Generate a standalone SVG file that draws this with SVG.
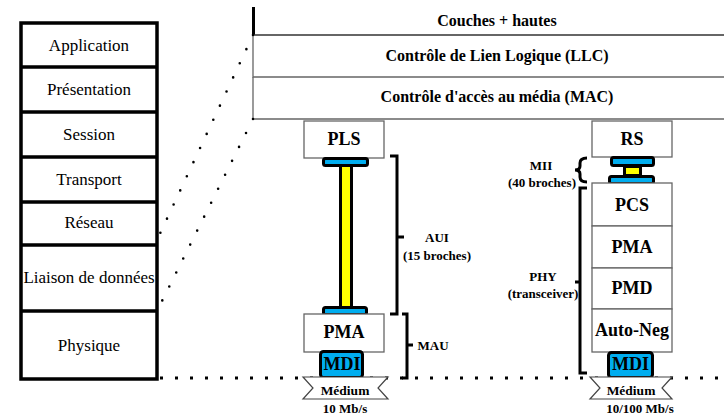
<svg xmlns="http://www.w3.org/2000/svg" width="724" height="417" viewBox="0 0 724 417">
<style>
.osi{fill:#fff;stroke:#000;stroke-width:3.5}
.t{font-family:"Liberation Serif","Times New Roman",serif;fill:#000;text-anchor:middle}
.r{font-size:17px}
.b{font-weight:bold}
.box{fill:#fff;stroke:#666;stroke-width:1.3}
.line{stroke:#666;stroke-width:1.3;fill:none}
.bar{fill:#00adef;stroke:#000;stroke-width:3;stroke-linejoin:round}
.yel{fill:#ffff00;stroke:#000;stroke-width:3}
.br{fill:none;stroke:#000;stroke-width:3;stroke-linejoin:miter}
.dotd{fill:none;stroke:#000;stroke-width:2.6;stroke-linecap:round;stroke-dasharray:0 15.6}
.doth{fill:none;stroke:#000;stroke-width:3;stroke-dasharray:3 12}
.med{fill:#fff;stroke:#444;stroke-width:1.2}
</style>

<g id="osi-stack">
  <rect class="osi" x="21" y="23" width="136" height="356"/>
  <path class="osi" d="M21,67H157M21,112H157M21,157H157M21,202H157M21,245H157M21,311H157" fill="none"/>
  <text class="t r" x="89" y="51">Application</text>
  <text class="t r" x="89" y="95">Présentation</text>
  <text class="t r" x="89" y="140">Session</text>
  <text class="t r" x="89" y="185">Transport</text>
  <text class="t r" x="89" y="228">Réseau</text>
  <text class="t r" x="89" y="283">Liaison de données</text>
  <text class="t r" x="89" y="351">Physique</text>
</g>

<g id="couches-hautes">
  <line x1="253.5" y1="7" x2="253.5" y2="35" stroke="#000" stroke-width="3"/>
  <line x1="253" y1="35" x2="724" y2="35" stroke="#333" stroke-width="1.5"/>
  <text class="t b" x="497" y="26" font-size="16">Couches + hautes</text>
</g>
<g id="llc">
  <path class="line" d="M253,35V77H724"/>
  <text class="t b" x="497" y="61" font-size="16">Contrôle de Lien Logique (LLC)</text>
</g>
<g id="mac">
  <path class="line" d="M253,77V119H724"/>
  <text class="t b" x="497" y="102" font-size="16">Contrôle d'accès au média (MAC)</text>
</g>

<g id="connectors">
  <line class="dotd" x1="253" y1="35" x2="157" y2="240"/>
  <line class="dotd" x1="253" y1="119" x2="157" y2="311"/>
  <line class="doth" x1="160" y1="378" x2="724" y2="378"/>
  <rect class="yel" x="340.5" y="164" width="11" height="144"/>
  <rect class="yel" x="624.5" y="166.5" width="16" height="9"/>
</g>

<g id="pls">
  <rect class="box" x="304" y="121" width="80" height="37"/>
  <text class="t b" x="344" y="145" font-size="18">PLS</text>
  <rect class="bar" x="323.5" y="158.5" width="44" height="7" rx="2"/>
</g>
<g id="aui">
  <path class="br" d="M390,156H397V314H390M397,237H404"/>
  <text class="t b" x="437" y="242" font-size="13">AUI</text>
  <text class="t b" x="437" y="260" font-size="13">(15 broches)</text>
</g>
<g id="pma-left">
  <rect class="bar" x="323.5" y="307.5" width="43" height="7" rx="2"/>
  <rect class="box" x="304" y="314" width="80" height="38"/>
  <text class="t b" x="344" y="338" font-size="18">PMA</text>
</g>
<g id="mau">
  <path class="br" d="M402,314H407V378H402M407,345H413"/>
  <text class="t b" x="433" y="350" font-size="13">MAU</text>
</g>
<g id="mdi-left">
  <rect class="bar" x="320.5" y="351.5" width="42" height="26" rx="3"/>
  <text class="t b" x="342" y="370" font-size="18">MDI</text>
</g>
<g id="medium-left">
  <polygon class="med" points="303,377 388,377 378,388 388,399 303,399 313,388"/>
  <text class="t b" x="345" y="395" font-size="13.5">Médium</text>
  <text class="t b" x="345" y="413" font-size="13">10 Mb/s</text>
</g>

<g id="rs">
  <rect class="box" x="592" y="121" width="80" height="36"/>
  <text class="t b" x="632" y="145" font-size="18">RS</text>
</g>
<g id="mii">
  <rect class="bar" x="611.5" y="157.5" width="42" height="8" rx="2"/>
  <rect class="bar" x="609.5" y="176.5" width="44" height="7" rx="2"/>
  <path class="br" d="M587,158Q580,158 580,163V166Q580,170 575,170Q580,170 580,174V177Q580,182 587,182"/>
  <text class="t b" x="541" y="170" font-size="13">MII</text>
  <text class="t b" x="542" y="187" font-size="13">(40 broches)</text>
</g>
<g id="pcs">
  <rect class="box" x="592" y="183" width="80" height="43"/>
  <text class="t b" x="632" y="211" font-size="18">PCS</text>
</g>
<g id="pma-right">
  <rect class="box" x="592" y="226" width="80" height="42"/>
  <text class="t b" x="632" y="253" font-size="18">PMA</text>
</g>
<g id="pmd">
  <rect class="box" x="592" y="268" width="80" height="41"/>
  <text class="t b" x="632" y="294" font-size="18">PMD</text>
</g>
<g id="auto-neg">
  <rect class="box" x="592" y="309" width="80" height="43"/>
  <text class="t b" x="632" y="336" font-size="18">Auto-Neg</text>
</g>
<g id="phy">
  <path class="br" d="M587,188H580V373H587M580,282H575"/>
  <text class="t b" x="543" y="281" font-size="13">PHY</text>
  <text class="t b" x="543" y="298" font-size="13">(transceiver)</text>
</g>
<g id="mdi-right">
  <rect class="bar" x="608.5" y="352.5" width="44" height="25" rx="3"/>
  <text class="t b" x="630.5" y="370" font-size="18">MDI</text>
</g>
<g id="medium-right">
  <polygon class="med" points="590,377 672,377 662,388 672,399 590,399 600,388"/>
  <text class="t b" x="631" y="395" font-size="13.5">Médium</text>
  <text class="t b" x="640" y="413" font-size="13">10/100 Mb/s</text>
</g>
</svg>
